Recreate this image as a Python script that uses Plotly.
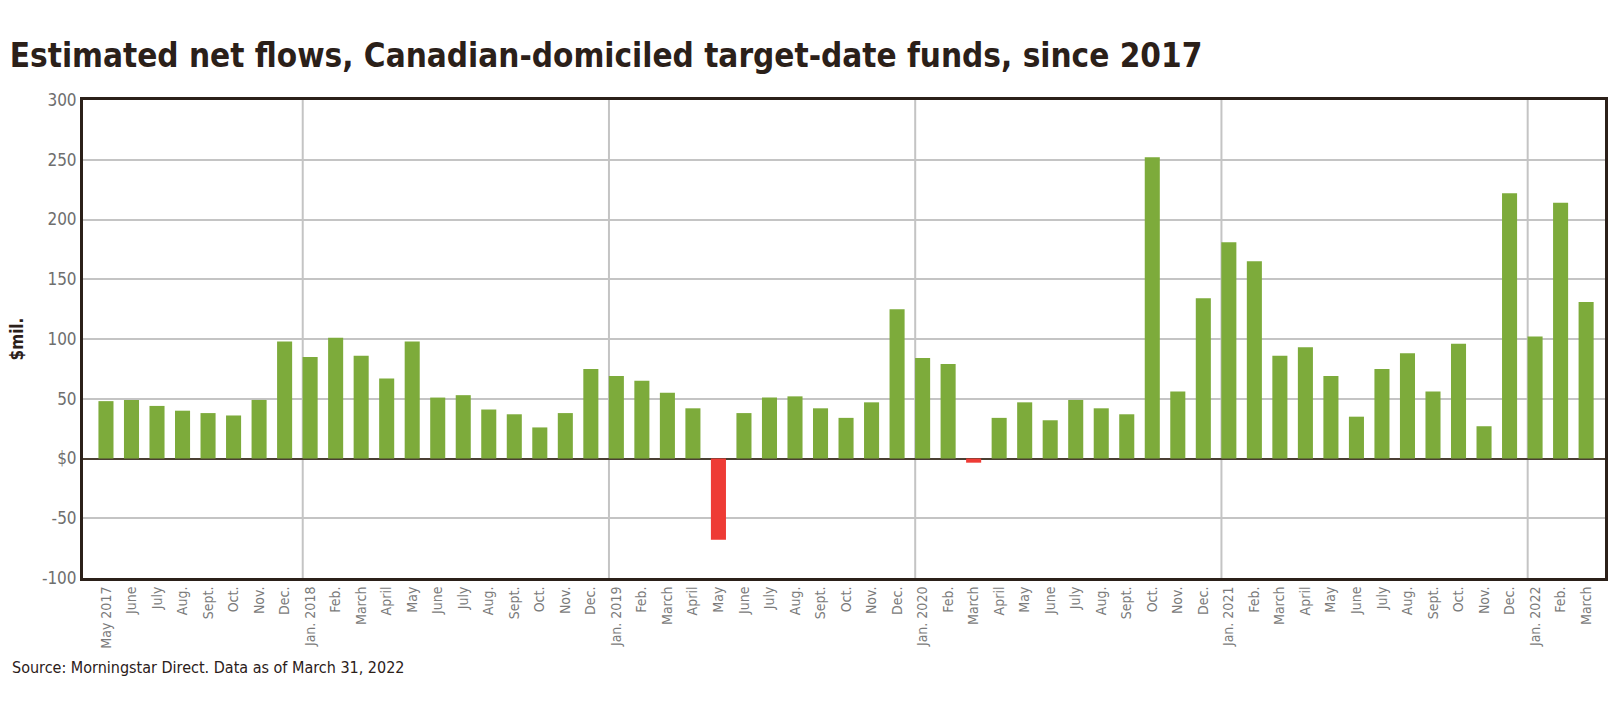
import plotly.graph_objects as go

months = (["May 2017", "June", "July", "Aug.", "Sept.", "Oct.", "Nov.", "Dec."]
          + ["Jan. 2018", "Feb.", "March", "April", "May", "June", "July", "Aug.", "Sept.", "Oct.", "Nov.", "Dec."]
          + ["Jan. 2019", "Feb.", "March", "April", "May", "June", "July", "Aug.", "Sept.", "Oct.", "Nov.", "Dec."]
          + ["Jan. 2020", "Feb.", "March", "April", "May", "June", "July", "Aug.", "Sept.", "Oct.", "Nov.", "Dec."]
          + ["Jan. 2021", "Feb.", "March", "April", "May", "June", "July", "Aug.", "Sept.", "Oct.", "Nov.", "Dec."]
          + ["Jan. 2022", "Feb.", "March"])

flows = [48, 49, 44, 40, 38, 36, 49, 98,
         85, 101, 86, 67, 98, 51, 53, 41, 37, 26, 38, 75,
         69, 65, 55, 42, -68, 38, 51, 52, 42, 34, 47, 125,
         84, 79, -3.5, 34, 47, 32, 49, 42, 37, 252, 56, 134,
         181, 165, 86, 93, 69, 35, 75, 88, 56, 96, 27, 222,
         102, 214, 131]

y_ticks = [-100, -50, 0, 50, 100, 150, 200, 250, 300]
y_labels = ["-100", "-50", "$0", "50", "100", "150", "200", "250", "300"]

GREEN = "#7dab3b"
RED = "#ee3b35"
DARK = "#2b2019"
GRID = "#c4c4c4"
FONT = "DejaVu Sans Condensed, Liberation Sans Narrow, sans-serif"

idx = list(range(len(months)))
colors = [GREEN if v >= 0 else RED for v in flows]

fig = go.Figure()
fig.add_trace(go.Bar(x=idx, y=flows, marker=dict(color=colors, line=dict(width=0)),
                     width=0.59, hoverinfo="x+y"))

# vertical gridlines at the start of each year (left edge of January bar)
jan_idx = [i for i, m in enumerate(months) if m.startswith("Jan.")]
for j in jan_idx:
    fig.add_shape(type="line", xref="x", yref="paper", x0=j - 0.29, x1=j - 0.29,
                  y0=0, y1=1, layer="below", line=dict(color=GRID, width=2))

fig.update_layout(
    width=1620, height=715,
    margin=dict(l=83, r=13, t=100, b=137),
    paper_bgcolor="white", plot_bgcolor="white",
    showlegend=False,
    title=dict(text="<b>Estimated net flows, Canadian-domiciled target-date funds, since 2017</b>",
               x=0.006, xanchor="left", y=0.922, yanchor="middle",
               font=dict(family=FONT, size=33, color=DARK)),
    bargap=0.4,
)
fig.update_xaxes(
    tickmode="array", tickvals=idx, ticktext=months, tickangle=-90,
    range=[-0.9, len(months) - 1 + 0.74],
    showgrid=False, zeroline=False,
    showline=True, mirror=True, linecolor=DARK, linewidth=3,
    ticks="", tickfont=dict(family=FONT, size=14, color="#7a7a7a"),
)
fig.update_yaxes(
    tickmode="array", tickvals=y_ticks, ticktext=y_labels, range=[-100, 300],
    showgrid=True, gridcolor=GRID, gridwidth=2,
    zeroline=True, zerolinecolor="#4a3f33", zerolinewidth=2,
    showline=True, mirror=True, linecolor=DARK, linewidth=3,
    ticks="", tickfont=dict(family=FONT, size=17, color="#6e6e6e"),
    title=dict(text="<b>$mil.</b>", font=dict(family=FONT, size=17, color=DARK), standoff=14),
)
fig.add_annotation(text="Source: Morningstar Direct. Data as of March 31, 2022",
                   xref="paper", yref="paper", x=-73/1524, y=-(667 - 578) / 478,
                   xanchor="left", yanchor="middle", showarrow=False,
                   font=dict(family=FONT, size=16, color=DARK))

fig.write_html("out.html", config={"displayModeBar": False},
               post_script="document.body.style.margin='0';")
